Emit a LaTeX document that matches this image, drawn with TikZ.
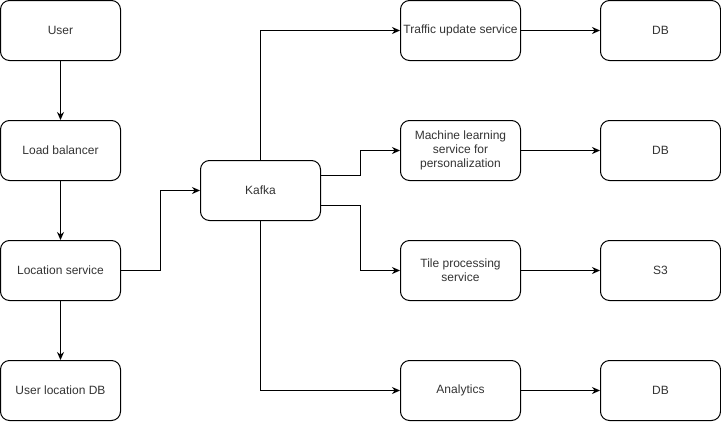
\documentclass[tikz,border=0pt]{standalone}
\usepackage{fontspec}
\setmainfont{Liberation Sans}
\usetikzlibrary{arrows.meta}
\begin{document}
\begin{tikzpicture}[x=1pt,y=-1pt,
  box/.style={draw=black, line width=1pt, rounded corners=9pt, minimum width=120pt, minimum height=60pt, align=center, font=\fontsize{12}{14}\selectfont, text=black!80, inner sep=0pt},
  conn/.style={draw=black, line width=1pt, -{Stealth[length=8pt,width=7pt]}}]
\useasboundingbox (0,0) rectangle (721,421);
\node[box] (user) at (60.5,30.5) {User};
\node[box] (lb) at (60.5,150.5) {Load balancer};
\node[box] (loc) at (60.5,270.5) {Location service};
\node[box] (uldb) at (60.5,390.5) {User location DB};
\node[box] (kafka) at (260.5,190.5) {Kafka};
\node[box] (traffic) at (460.5,30.5) {Traffic update service};
\node[box] (ml) at (460.5,150.5) {Machine learning\\service for\\personalization};
\node[box] (tile) at (460.5,270.5) {Tile processing\\service};
\node[box] (analytics) at (460.5,390.5) {Analytics};
\node[box] (db1) at (660.5,30.5) {DB};
\node[box] (db2) at (660.5,150.5) {DB};
\node[box] (s3) at (660.5,270.5) {S3};
\node[box] (db4) at (660.5,390.5) {DB};
\draw[conn] (user) -- (lb);
\draw[conn] (lb) -- (loc);
\draw[conn] (loc) -- (uldb);
\draw[conn] (loc.east) -- (160.5,270.5) -- (160.5,190.5) -- (kafka.west);
\draw[conn] (kafka.north) |- (traffic.west);
\draw[conn] (kafka.south) |- (analytics.west);
\draw[conn] (320.5,175.5) -- (360.5,175.5) -- (360.5,150.5) -- (ml.west);
\draw[conn] (320.5,205.5) -- (360.5,205.5) -- (360.5,270.5) -- (tile.west);
\draw[conn] (traffic) -- (db1);
\draw[conn] (ml) -- (db2);
\draw[conn] (tile) -- (s3);
\draw[conn] (analytics) -- (db4);
\end{tikzpicture}
\end{document}
